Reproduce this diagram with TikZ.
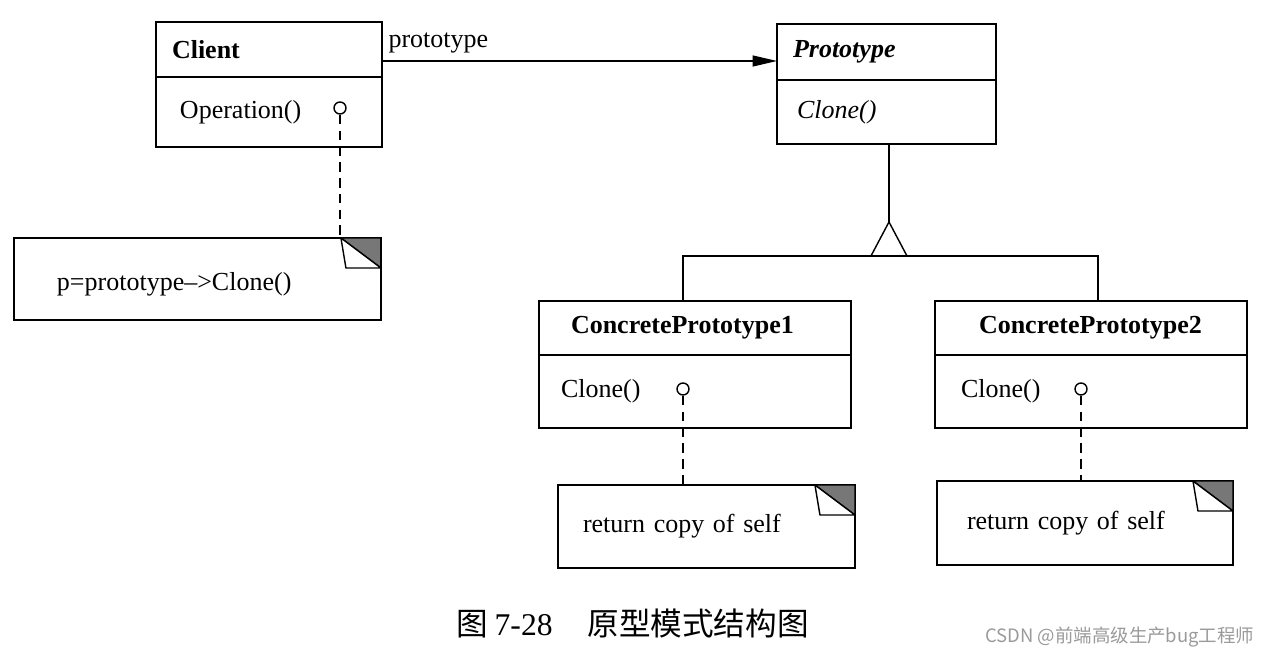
\documentclass[tikz,border=0pt]{standalone}
\usepackage{fontspec}
\setmainfont{Liberation Serif}
\newfontfamily\cjk{Noto Sans CJK SC}
\usetikzlibrary{arrows.meta}
\definecolor{foldgray}{HTML}{777777}
\definecolor{markgray}{HTML}{9A9A9A}
\newcommand\umlfont{\fontsize{14.8}{18}\selectfont}
% dog-ear of a note, drawn over its north east corner
\newcommand\foldcorner[1]{%
  \filldraw[fill=foldgray] ([xshift=-0.8cm]#1.north east) -- (#1.north east) -- ([yshift=-0.6cm]#1.north east) -- cycle;
  \filldraw[fill=white, line join=bevel] ([xshift=-0.8cm]#1.north east) -- ([xshift=-0.7cm,yshift=-0.6cm]#1.north east) -- ([yshift=-0.6cm]#1.north east) -- cycle;}
% lower compartment: three sides only, the top one is the title's
\newcommand\opsborder[1]{\draw (#1.north west) |- (#1.south east) -- (#1.north east);}

\begin{document}
\begin{tikzpicture}[x=0.02cm, y=-0.02cm, line width=0.8pt, font=\umlfont,
  compart/.style n args={3}{draw, anchor=north west, align=left, outer sep=0pt, inner ysep=0pt, minimum height=#1, text width=#2, inner xsep=#3},
  opspart/.style n args={3}{compart={#1}{#2}{#3}, draw=none},
  notebox/.style n args={3}{compart={#1}{#2}{#3}},
  knob/.style={draw, circle, fill=white, inner sep=0pt, minimum size=0.24cm},
  link/.style={dash pattern=on 5.5pt off 3.5pt}]
\useasboundingbox (0,0) rectangle (1270,658);
% classes
\node[compart={1.1cm}{3.88cm}{0.32cm}, font=\umlfont\bfseries] (client) at (156,22) {Client};
\node[opspart={1.4cm}{3.56cm}{0.48cm}] (clientops) at (client.south west) {Operation()};
\node[compart={1.12cm}{3.74cm}{0.32cm}, font=\umlfont\bfseries\itshape] (proto) at (777,24) {Prototype};
\node[opspart={1.28cm}{3.58cm}{0.40cm}, font=\umlfont\itshape] (protoops) at (proto.south west) {Clone()};
\node[compart={1.08cm}{4.96cm}{0.64cm}, font=\umlfont\bfseries] (cp1) at (539,301) {ConcretePrototype1};
\node[opspart={1.46cm}{5.36cm}{0.44cm}] (cp1ops) at (cp1.south west) {Clone()};
\node[compart={1.08cm}{4.48cm}{0.88cm}, font=\umlfont\bfseries] (cp2) at (935,301) {ConcretePrototype2};
\node[opspart={1.46cm}{5.2cm}{0.52cm}] (cp2ops) at (cp2.south west) {Clone()};
\opsborder{clientops}
\opsborder{protoops}
\opsborder{cp1ops}
\opsborder{cp2ops}
% notes
\node[notebox={1.64cm}{5.62cm}{0.86cm}, text height=0.57cm] (note1) at (14,238) {p=prototype\textendash{}>Clone()};
\node[notebox={1.66cm}{4.94cm}{0.5cm}] (note2) at (558,485) {return copy of self};
\node[notebox={1.68cm}{4.72cm}{0.6cm}] (note3) at (937,481) {return copy of self};
\foldcorner{note1}
\foldcorner{note2}
\foldcorner{note3}
% operations to notes
\node[knob] (k0) at (340,108) {};
\node[knob] (k1) at (683,389) {};
\node[knob] (k2) at (1081,389) {};
\draw[link] (k0.south) -- (note1.north -| k0);
\draw[link] (k1.south) -- (note2.north -| k1);
\draw[link] (k2.south) -- (note3.north -| k2);
% association
\coordinate (assoc) at ([yshift=-0.23cm]client.east);
\draw[-{Triangle[length=0.49cm,width=0.22cm]}] (assoc) -- (assoc -| proto.west) node[pos=0, anchor=south west, yshift=1pt] {prototype};
% inheritance
\coordinate (apex) at ([xshift=0.05cm,yshift=-1.56cm]protoops.south);
\coordinate (base) at ([yshift=-0.68cm]apex);
\coordinate (cp2top) at ([xshift=0.14cm]cp2.north);
\draw (protoops.south -| apex) -- (apex);
\draw (apex) -- ++(-18,34) -- ++(36,0) -- cycle;
\draw (cp1.north -| k1) -- (base -| k1) -- (base -| cp2top) -- (cp2top);
% caption
\node[anchor=west, inner sep=0pt, font=\fontsize{18}{20}\selectfont] (caption) at (456,623) {{\cjk 图}\hspace{0.2em}7-28\hspace{1.1em}{\cjk 原型模式结构图}};
\node[anchor=east, inner sep=0pt, text=markgray, font=\cjk\fontsize{10.5}{12}\selectfont] (mark) at (1255,637) {CSDN @前端高级生产bug工程师};
\end{tikzpicture}
\end{document}
